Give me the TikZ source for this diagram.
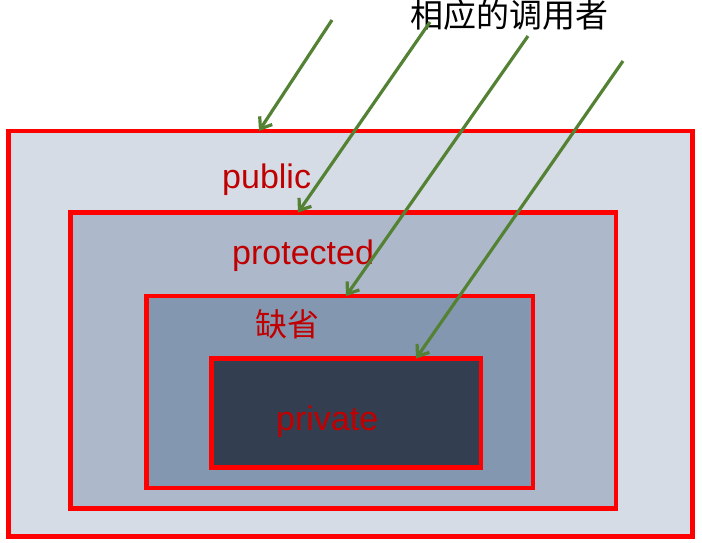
\documentclass[tikz,border=0pt]{standalone}
\usepackage{fontspec}
\setmainfont{Liberation Sans}
\newfontfamily\cjk{Noto Sans CJK SC}
\usetikzlibrary{arrows.meta}
\definecolor{redline}{HTML}{FF0000}
\definecolor{redtext}{HTML}{C00000}
\definecolor{fillA}{HTML}{D6DCE5}
\definecolor{fillB}{HTML}{ADB9CA}
\definecolor{fillC}{HTML}{8497B0}
\definecolor{fillD}{HTML}{333F50}
\definecolor{arrowgreen}{HTML}{548235}
\begin{document}
\begin{tikzpicture}[x=1pt,y=-1pt,
  layerbox/.style={draw=redline, line width=4.8pt, inner sep=0pt, outer sep=0pt},
  lbl/.style={text=redtext, inner sep=0pt, font=\fontsize{34}{36}\selectfont},
  caller/.style={draw=arrowgreen, line width=3.2pt, -{Straight Barb[length=10pt,width=15pt,line width=3.2pt]}}]
\useasboundingbox (0,0) rectangle (702,543);
\node[layerbox, fill=fillA, minimum width=684pt, minimum height=405.5pt, anchor=north west] (r1) at (8.5,131) {};
\node[layerbox, fill=fillB, minimum width=545.5pt, minimum height=296pt, anchor=north west] (r2) at (70.5,212.5) {};
\node[layerbox, fill=fillC, minimum width=386.5pt, minimum height=192pt, anchor=north west] (r3) at (146.5,296) {};
\node[layerbox, fill=fillD, minimum width=269.5pt, minimum height=109pt, anchor=north west] (r4) at (211.5,358.5) {};

\node[lbl, anchor=base west] (lpub) at (222,188) {public};
\node[lbl, anchor=base west] (lprot) at (232,264) {protected};
\node[lbl, anchor=west, font=\cjk\fontsize{32}{36}\selectfont] (ldef) at (255,324) {缺省};
\node[lbl, anchor=base west] (lpriv) at (276,430) {private};

\node[inner sep=0pt, font=\cjk\fontsize{33}{36}\selectfont] (title) at (509,15) {相应的调用者};

\coordinate (s1) at (332,20);
\coordinate (s2) at (430,22);
\coordinate (s3) at (528,36);
\coordinate (s4) at (623,61);
\coordinate (e1) at (259,131);
\coordinate (e2) at (298,212.5);
\coordinate (e3) at (346,296);
\coordinate (e4) at (416,358.5);
\draw[caller] (s1) -- (e1);
\draw[caller] (s2) -- (e2);
\draw[caller] (s3) -- (e3);
\draw[caller] (s4) -- (e4);
\end{tikzpicture}
\end{document}
